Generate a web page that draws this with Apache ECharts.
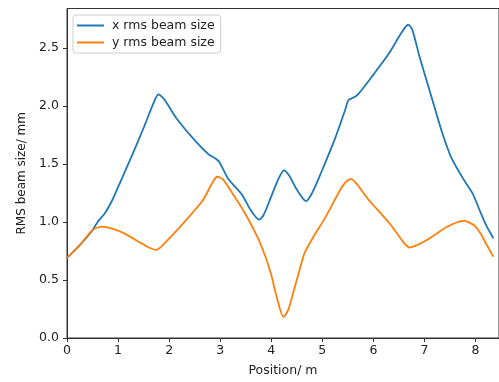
<!DOCTYPE html>
<html>
<head>
<meta charset="utf-8">
<script src="https://cdn.jsdelivr.net/npm/echarts@6/dist/echarts.min.js"></script>
<style>html,body{margin:0;padding:0;background:#fff;}#c{width:499px;height:382px;}</style>
</head>
<body>
<div id="c"></div>
<script>
const seriesNames = ["x rms beam size", "y rms beam size"];
const xRms = [
  [0,0.69],[0.25,0.80],[0.5,0.93],[0.6,1.00],[0.75,1.08],[0.9,1.20],[1.0,1.30],[1.25,1.55],[1.5,1.81],[1.7,2.03],[1.79,2.10],
  [1.9,2.06],[2.15,1.89],[2.53,1.69],[2.78,1.58],[2.9,1.55],[2.98,1.52],[3.16,1.37],[3.42,1.24],[3.6,1.10],[3.76,1.02],
  [3.85,1.06],[4.0,1.22],[4.15,1.38],[4.25,1.445],[4.35,1.40],[4.5,1.28],[4.68,1.18],[4.8,1.25],[5.0,1.45],[5.25,1.72],
  [5.45,1.97],[5.51,2.05],[5.6,2.07],[5.7,2.10],[6.0,2.27],[6.3,2.45],[6.55,2.63],[6.68,2.70],[6.76,2.66],[6.9,2.43],
  [7.15,2.06],[7.34,1.78],[7.53,1.55],[7.79,1.35],[7.95,1.24],[8.1,1.08],[8.21,0.97],[8.35,0.86]
];
const yRms = [
  [0,0.69],[0.25,0.80],[0.5,0.93],[0.68,0.96],[0.9,0.94],[1.13,0.90],[1.4,0.83],[1.6,0.78],[1.75,0.76],[1.85,0.79],
  [2.05,0.88],[2.28,0.99],[2.65,1.18],[2.85,1.34],[2.94,1.39],[3.05,1.37],[3.25,1.24],[3.48,1.08],[3.73,0.87],[3.87,0.72],
  [3.99,0.56],[4.12,0.33],[4.24,0.18],[4.33,0.24],[4.43,0.39],[4.55,0.58],[4.65,0.73],[4.81,0.86],[5.06,1.04],[5.38,1.30],
  [5.5,1.36],[5.57,1.37],[5.67,1.33],[5.89,1.20],[6.01,1.14],[6.33,0.98],[6.6,0.82],[6.71,0.78],[6.85,0.80],[7.03,0.84],
  [7.41,0.95],[7.65,1.00],[7.79,1.01],[7.9,0.99],[7.98,0.97],[8.1,0.90],[8.21,0.81],[8.35,0.70]
];
const xTicks = [0,1,2,3,4,5,6,7,8];
const yTicks = [0.0,0.5,1.0,1.5,2.0,2.5];
const xLabel = "Position/ m";
const yLabel = "RMS beam size/ mm";

const font = "DejaVu Sans";
const chart = echarts.init(document.getElementById('c'));
chart.setOption({
  animation: false,
  backgroundColor: '#fff',
  grid: {left: 67, top: 8.5, right: -13, bottom: 39.7, show: true, borderColor: '#333', borderWidth: 1, backgroundColor: 'transparent'},
  legend: {
    orient: 'vertical', left: 73, top: 15,
    data: seriesNames,
    icon: 'rect', itemWidth: 27, itemHeight: 2, itemGap: 4,
    padding: [4, 6, 4, 4],
    backgroundColor: 'rgba(255,255,255,0.8)', borderColor: '#ccc', borderWidth: 1, borderRadius: 3,
    textStyle: {fontFamily: font, fontSize: 12.5, color: '#222', padding: [0,0,0,3]}
  },
  xAxis: {
    type: 'value', min: 0, max: 8.46, interval: 1,
    name: xLabel, nameLocation: 'middle', nameGap: 26,
    nameTextStyle: {fontFamily: font, fontSize: 12.5, color: '#222'},
    axisLine: {show: true, lineStyle: {color: '#333', width: 1}},
    axisTick: {show: true, length: 4, lineStyle: {color: '#333'}},
    splitLine: {show: false},
    axisLabel: {fontFamily: font, fontSize: 12.5, color: '#222', margin: 6, showMaxLabel: false,
      formatter: v => xTicks.includes(v) ? String(v) : ''}
  },
  yAxis: {
    type: 'value', min: 0, max: 2.84, interval: 0.5,
    name: yLabel, nameLocation: 'middle', nameGap: 36, nameRotate: 90,
    nameTextStyle: {fontFamily: font, fontSize: 12, color: '#222'},
    axisLine: {show: true, lineStyle: {color: '#333', width: 1}},
    axisTick: {show: true, length: 4, lineStyle: {color: '#333'}},
    splitLine: {show: false},
    axisLabel: {fontFamily: font, fontSize: 12.5, color: '#222', margin: 8, showMaxLabel: false,
      formatter: v => { const f = yTicks.find(t => Math.abs(t - v) < 1e-9); return f === undefined ? '' : f.toFixed(1); }}
  },
  series: [
    {name: seriesNames[0], type: 'line', data: xRms, smooth: 0.25, showSymbol: false, lineStyle: {color: '#1f77b4', width: 1.8}, itemStyle: {color: '#1f77b4'}},
    {name: seriesNames[1], type: 'line', data: yRms, smooth: 0.25, showSymbol: false, lineStyle: {color: '#ff7f0e', width: 1.8}, itemStyle: {color: '#ff7f0e'}}
  ]
});
</script>
</body>
</html>
